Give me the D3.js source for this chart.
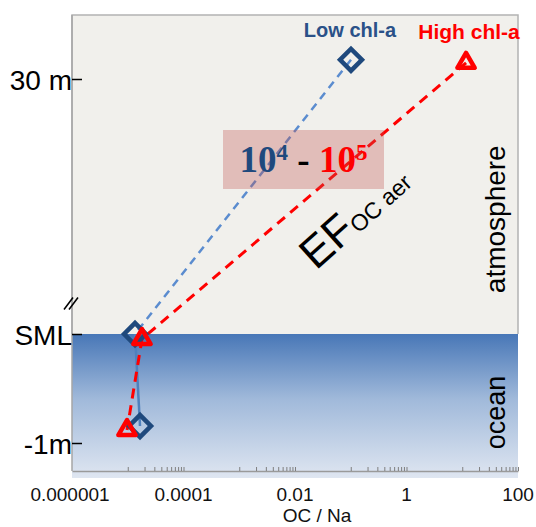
<!DOCTYPE html>
<html>
<head>
<meta charset="utf-8">
<script src="https://cdn.jsdelivr.net/npm/d3@7"></script>
<style>
  body { margin: 0; background: #fff; }
  svg { display: block; font-family: "Liberation Sans", Arial, sans-serif; }
</style>
</head>
<body>
<div id="chart"></div>
<script>
(function () {

  // levels: 1 = 30 m above sea, 0 = sea surface microlayer, -1 = 1 m depth
  const levelLabels = ["30 m", "SML", "-1m"]
  const levelValues = [1, 0, -1]

  const xTickValues = [1e-6, 1e-4, 1e-2, 1, 100]
  const xTickLabels = ["0.000001", "0.0001", "0.01", "1", "100"]

  // OC / Na ratios
  const lowLevels = [1.075, 0, -0.844]
  const lowRatio = [0.101, 1.35e-5, 1.66e-5]
  const highLevels = [1.063, -0.046, -0.881]
  const highRatio = [11.7, 1.8e-5, 9.7e-6]

  const margin = { top: 15, right: 18, bottom: 56, left: 72 }
  const width = 536 - margin.left - margin.right
  const height = 527 - margin.top - margin.bottom

  const svg = d3.select("#chart").append("svg")
      .attr("width", width + margin.left + margin.right)
      .attr("height", height + margin.top + margin.bottom)
      .append("g")
      .attr("transform", "translate(" + margin.left + "," + margin.top + ")")

  const xPositionScale = d3.scaleLog()
    .domain([1e-6, 100])
    .range([0, width])

  // broken axis: the air part is squeezed, so the scale is piecewise
  const yPositionScale = d3.scaleLinear()
    .domain([-1.257, -1, 0, 1, 1.25])
    .range([height, 428, 319, 64, 0])

  const defs = svg.append("defs")
  const grad = defs.append("linearGradient")
    .attr("id", "sea")
    .attr("x1", 0).attr("y1", 0).attr("x2", 0).attr("y2", 1)
  grad.append("stop").attr("offset", "0%").attr("stop-color", "#4877b7")
  grad.append("stop").attr("offset", "45%").attr("stop-color", "#a0b9da")
  grad.append("stop").attr("offset", "100%").attr("stop-color", "#dfe6f1")

  // atmosphere + ocean backgrounds
  svg.append("rect")
    .attr("x", 0).attr("y", 0)
    .attr("width", width)
    .attr("height", yPositionScale(0))
    .attr("fill", "#f1f0ec")

  svg.append("rect")
    .attr("x", 0).attr("y", yPositionScale(0))
    .attr("width", width)
    .attr("height", height - yPositionScale(0) + 7)
    .attr("fill", "url(#sea)")

  // frame
  svg.append("path")
    .attr("d", "M0," + yPositionScale(0) + "V0H" + width + "V" + yPositionScale(0))
    .attr("fill", "none")
    .attr("stroke", "#b3b3b3")
    .attr("stroke-width", 1.5)

  svg.append("line")
    .attr("x1", 0).attr("x2", 0)
    .attr("y1", 0).attr("y2", height)
    .attr("stroke", "#a6a6a6")
    .attr("stroke-width", 1.5)

  // x axis: only minor ticks drawn inside, labels at every 2nd decade
  const minorTicks = []
  ;[1e-5, 1e-3, 1e-1, 10].forEach(base => {
    for (let k = 1; k <= 10; k++) minorTicks.push(base * k)
  })

  const xAxis = d3.axisBottom(xPositionScale)
    .tickValues(minorTicks)
    .tickSizeInner(-4)
    .tickSizeOuter(0)
    .tickFormat("")
  const xg = svg.append("g")
    .attr("class", "axis x-axis")
    .attr("transform", "translate(0," + height + ")")
    .call(xAxis)
  xg.select(".domain").attr("stroke", "#9a9a9a").attr("stroke-width", 1.5)
  xg.selectAll(".tick line").attr("stroke", "#7f7f7f")

  svg.selectAll(".x-label")
    .data(xTickValues)
    .join("text")
    .attr("class", "x-label")
    .attr("x", (d, i) => xPositionScale(d) - (i === 0 ? 2 : 0))
    .attr("y", height + 30)
    .attr("text-anchor", "middle")
    .attr("font-size", 19)
    .attr("fill", "#111")
    .text((d, i) => xTickLabels[i])

  svg.append("text")
    .attr("x", 245)
    .attr("y", height + 51)
    .attr("text-anchor", "middle")
    .attr("font-size", 19)
    .attr("fill", "#111")
    .text("OC / Na")

  // y axis
  const yAxis = d3.axisLeft(yPositionScale)
    .tickValues(levelValues)
    .tickSizeInner(-10)
    .tickSizeOuter(0)
    .tickPadding(0)
    .tickFormat((d, i) => levelLabels[i])
  const yg = svg.append("g")
    .attr("class", "axis y-axis")
    .call(yAxis)
  yg.select(".domain").remove()
  yg.selectAll(".tick line").attr("stroke", "#000").attr("stroke-width", 1.5)
  yg.selectAll(".tick text")
    .attr("font-size", 28)
    .attr("fill", "#000")
    .attr("font-family", "Liberation Sans, Arial, sans-serif")
    .attr("dy", "0.36em")

  // axis break mark
  const breakY = yPositionScale(0.12)
  ;[-4, 1].forEach(off => {
    svg.append("line")
      .attr("x1", off - 4).attr("y1", breakY + 6)
      .attr("x2", off + 5).attr("y2", breakY - 6)
      .attr("stroke", "#000")
      .attr("stroke-width", 1.6)
  })

  const lowPts = lowLevels.map((l, i) => ({ level: l, ratio: lowRatio[i] }))
  const highPts = highLevels.map((l, i) => ({ level: l, ratio: highRatio[i] }))

  const line = d3.line()
    .x(d => xPositionScale(d.ratio))
    .y(d => yPositionScale(d.level))

  // low chl-a: dashed through the air, solid in the water
  svg.append("path")
    .datum(lowPts.slice(0, 2))
    .attr("d", line)
    .attr("fill", "none")
    .attr("stroke", "#5b8ccf")
    .attr("stroke-width", 2.5)
    .attr("stroke-dasharray", "8,6")

  svg.append("path")
    .datum(lowPts.slice(1))
    .attr("d", line)
    .attr("fill", "none")
    .attr("stroke", "#4f81bd")
    .attr("stroke-width", 2.5)

  svg.append("path")
    .datum(highPts)
    .attr("d", line)
    .attr("fill", "none")
    .attr("stroke", "#ff0000")
    .attr("stroke-width", 3)
    .attr("stroke-dasharray", "10,7")

  // enrichment factor box
  svg.append("rect")
    .attr("x", 151).attr("y", 115)
    .attr("width", 161).attr("height", 59)
    .attr("fill", "#c0504d")
    .attr("opacity", 0.32)

  const ef = svg.append("text")
    .attr("x", 231.5)
    .attr("y", 157)
    .attr("text-anchor", "middle")
    .attr("font-family", "Liberation Serif, Times New Roman, serif")
    .attr("font-weight", "bold")
    .attr("font-size", 37)
  ef.append("tspan").attr("fill", "#1f497d").text("10")
  ef.append("tspan").attr("fill", "#1f497d").attr("font-size", 23).attr("dy", -12).text("4")
  ef.append("tspan").attr("fill", "#000").attr("dy", 12).text(" - ")
  ef.append("tspan").attr("fill", "#ff0000").text("10")
  ef.append("tspan").attr("fill", "#ff0000").attr("font-size", 23).attr("dy", -12).text("5")

  const efLabel = svg.append("text")
    .attr("transform", "translate(244,256) rotate(-42)")
    .attr("font-size", 44)
    .attr("fill", "#000")
  efLabel.append("tspan").text("EF")
  efLabel.append("tspan").attr("font-size", 23).attr("dy", 1).text("OC aer")

  // markers
  svg.selectAll(".low")
    .data(lowPts)
    .join("path")
    .attr("class", "low")
    .attr("d", d3.symbol(d3.symbolSquare, 240))
    .attr("transform", d => "translate(" + xPositionScale(d.ratio) + "," + yPositionScale(d.level) + ") rotate(45)")
    .attr("fill", "none")
    .attr("stroke", "#1f497d")
    .attr("stroke-width", 4.5)

  svg.selectAll(".high")
    .data(highPts)
    .join("path")
    .attr("class", "high")
    .attr("d", d3.symbol(d3.symbolTriangle, 130))
    .attr("transform", d => "translate(" + xPositionScale(d.ratio) + "," + yPositionScale(d.level) + ")")
    .attr("fill", "none")
    .attr("stroke", "#ff0000")
    .attr("stroke-width", 4.5)
    .attr("stroke-linejoin", "round")

  // series labels above the top markers
  svg.append("text")
    .attr("x", xPositionScale(lowRatio[0]) - 1)
    .attr("y", yPositionScale(lowLevels[0]) - 23)
    .attr("text-anchor", "middle")
    .attr("font-size", 20)
    .attr("font-weight", "bold")
    .attr("fill", "#2a5188")
    .text("Low chl-a")

  svg.append("text")
    .attr("x", xPositionScale(highRatio[0]) + 3)
    .attr("y", yPositionScale(highLevels[0]) - 24)
    .attr("text-anchor", "middle")
    .attr("font-size", 21)
    .attr("font-weight", "bold")
    .attr("fill", "#ff0000")
    .text("High chl-a")

  // region labels
  svg.append("text")
    .attr("transform", "translate(" + (width - 13) + "," + yPositionScale(0.45) + ") rotate(-90)")
    .attr("text-anchor", "middle")
    .attr("font-size", 28)
    .attr("fill", "#000")
    .text("atmosphere")

  svg.append("text")
    .attr("transform", "translate(" + (width - 13) + "," + yPositionScale(-0.72) + ") rotate(-90)")
    .attr("text-anchor", "middle")
    .attr("font-size", 27)
    .attr("fill", "#000")
    .text("ocean")

})();
</script>
</body>
</html>
